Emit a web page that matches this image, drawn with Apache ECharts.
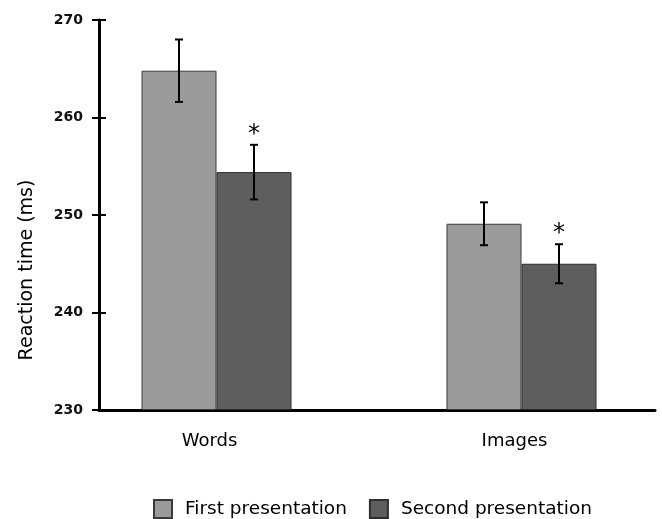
<!DOCTYPE html>
<html>
<head>
<meta charset="utf-8">
<script src="https://cdn.jsdelivr.net/npm/echarts@6/dist/echarts.min.js"></script>
<style>
  html, body { margin: 0; padding: 0; background: #fff; }
  #main { width: 662px; height: 519px; }
</style>
</head>
<body>
<div id="main"></div>
<script>
// data
const categories = ['Words', 'Images'];
const seriesNames = ['First presentation', 'Second presentation'];
const firstMeans = [264.8, 249.1];
const firstErrors = [3.2, 2.2];
const secondMeans = [254.4, 245.0];
const secondErrors = [2.8, 2.0];
const firstSignificant = [false, false];
const secondSignificant = [true, true];
const yTicks = [230, 240, 250, 260, 270];

const FONT = 'DejaVu Sans';
const BAR_W = 75;

// error bar rows: [category index, low, high, star]
function errRows(means, errs, sig) {
  return means.map((m, i) => [i, m - errs[i], m + errs[i], sig[i] ? 1 : 0]);
}

function errRenderer(offset) {
  return function (params, api) {
    const cat = api.value(0);
    const top = api.coord([cat, api.value(2)]);
    const bot = api.coord([cat, api.value(1)]);
    const x = top[0] + offset;
    const cap = 4;
    const style = { stroke: '#000', lineWidth: 2 };
    const children = [
      { type: 'line', shape: { x1: x, y1: top[1], x2: x, y2: bot[1] }, style: style },
      { type: 'line', shape: { x1: x - cap, y1: top[1], x2: x + cap, y2: top[1] }, style: style },
      { type: 'line', shape: { x1: x - cap, y1: bot[1], x2: x + cap, y2: bot[1] }, style: style }
    ];
    if (api.value(3)) {
      children.push({
        type: 'text',
        style: {
          text: '*', x: x, y: top[1] + 2,
          align: 'center', verticalAlign: 'bottom',
          font: '24px "DejaVu Sans"', fill: '#000'
        }
      });
    }
    return { type: 'group', children: children };
  };
}

const chart = echarts.init(document.getElementById('main'), null, { renderer: 'canvas' });

chart.setOption({
  animation: false,
  textStyle: { fontFamily: FONT },
  legend: {
    data: seriesNames,
    left: 148,
    top: 494,
    icon: 'rect',
    itemWidth: 18,
    itemHeight: 18,
    itemGap: 22,
    textStyle: { fontFamily: FONT, fontSize: 18.5, color: '#000', padding: [0, 0, 0, 8] }
  },
  grid: [
    { left: 99, right: 7, top: 20, bottom: 109 },     // visible axes
    { left: 216.5, width: 305, top: 20, bottom: 109 } // bars, categories on the grid edges
  ],
  xAxis: [
    {
      gridIndex: 0, type: 'category', data: categories,
      axisLine: { lineStyle: { color: '#000', width: 3 } },
      axisTick: { show: false }, axisLabel: { show: false }
    },
    {
      gridIndex: 1, type: 'category', data: categories, boundaryGap: false,
      axisLine: { show: false }, axisTick: { show: false },
      axisLabel: {
        fontFamily: FONT, fontSize: 18, color: '#000', margin: 22,
        padding: [0, 14, 0, 0]
      }
    }
  ],
  yAxis: [
    {
      gridIndex: 0, type: 'value',
      min: yTicks[0], max: yTicks[yTicks.length - 1], interval: yTicks[1] - yTicks[0],
      name: 'Reaction time (ms)', nameLocation: 'middle', nameGap: 62, nameRotate: 90,
      nameTextStyle: { fontFamily: FONT, fontSize: 19, color: '#000', padding: [0, 110, 0, 0] },
      axisLine: { show: true, lineStyle: { color: '#000', width: 3 } },
      axisTick: { show: true, length: 7, lineStyle: { color: '#000', width: 2 } },
      axisLabel: { fontFamily: FONT, fontSize: 14, fontWeight: 'bold', color: '#111', margin: 16 },
      splitLine: { show: false }
    },
    {
      gridIndex: 0, type: 'value', position: 'left',
      min: yTicks[0], max: yTicks[yTicks.length - 1], interval: yTicks[1] - yTicks[0],
      axisLine: { show: false },
      axisTick: { show: true, inside: true, length: 7, lineStyle: { color: '#000', width: 2 } },
      axisLabel: { show: false },
      splitLine: { show: false }
    },
    {
      gridIndex: 1, type: 'value', show: false,
      min: yTicks[0], max: yTicks[yTicks.length - 1], startValue: yTicks[0]
    }
  ],
  series: [
    {
      name: seriesNames[0], type: 'bar', xAxisIndex: 1, yAxisIndex: 2, clip: false,
      data: firstMeans, barWidth: BAR_W, barGap: '0%',
      itemStyle: { color: '#9b9b9b', borderColor: '#3a3a3a', borderWidth: 1 }
    },
    {
      name: seriesNames[1], type: 'bar', xAxisIndex: 1, yAxisIndex: 2, clip: false,
      data: secondMeans, barWidth: BAR_W, barGap: '0%',
      itemStyle: { color: '#5e5e5e', borderColor: '#2e2e2e', borderWidth: 1 }
    },
    {
      name: 'err1', type: 'custom', xAxisIndex: 1, yAxisIndex: 2, z: 5, clip: false,
      renderItem: errRenderer(-BAR_W / 2),
      data: errRows(firstMeans, firstErrors, firstSignificant)
    },
    {
      name: 'err2', type: 'custom', xAxisIndex: 1, yAxisIndex: 2, z: 5, clip: false,
      renderItem: errRenderer(BAR_W / 2),
      data: errRows(secondMeans, secondErrors, secondSignificant)
    }
  ]
});
</script>
</body>
</html>
